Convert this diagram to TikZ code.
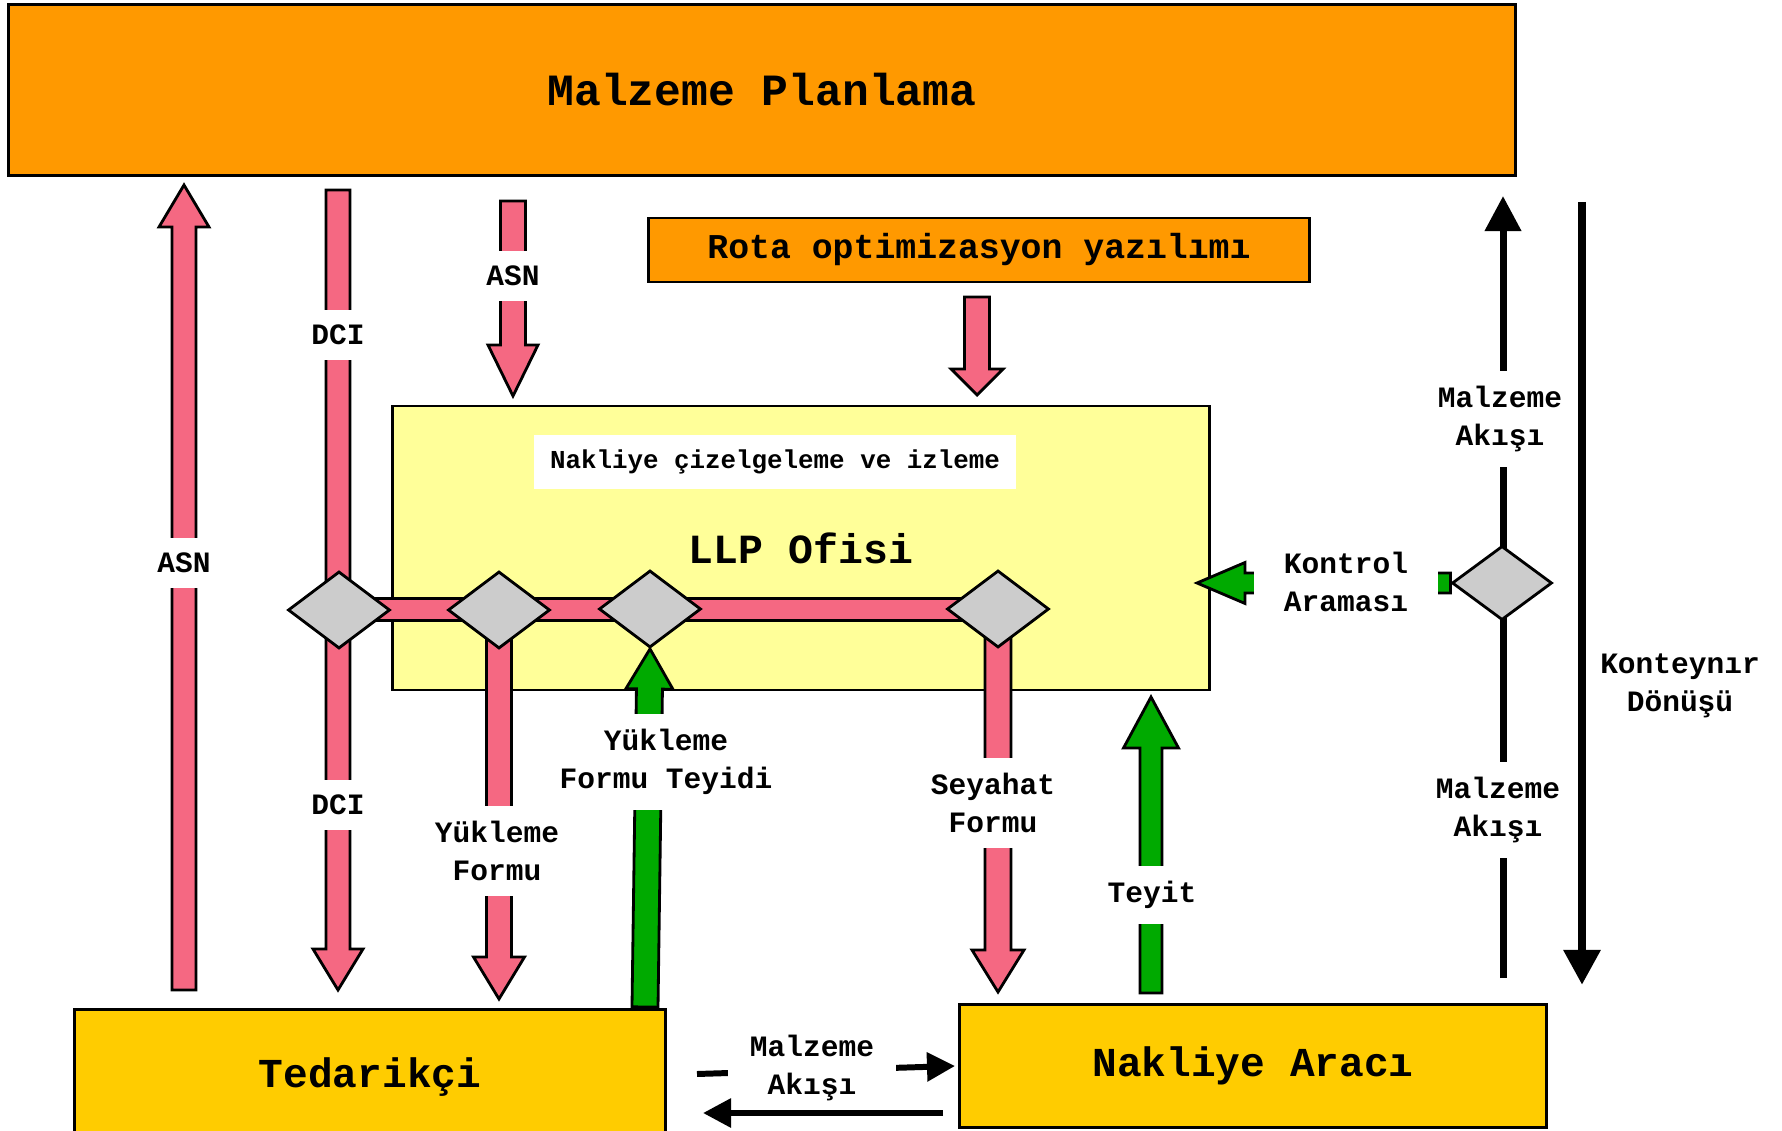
\documentclass[tikz,border=0pt]{standalone}
\usepackage{fontspec}
\setmainfont{Liberation Mono}
\usetikzlibrary{calc,shapes.geometric,arrows.meta,backgrounds}

\definecolor{planorange}{RGB}{255,153,0}
\definecolor{officeyellow}{RGB}{255,255,153}
\definecolor{partygold}{RGB}{255,204,0}
\definecolor{flowpink}{RGB}{245,104,130}
\definecolor{okgreen}{RGB}{0,170,0}
\definecolor{gategray}{RGB}{204,204,204}

\newcommand{\labelsize}{\bfseries\fontsize{8.4}{11}\selectfont}

% block arrow: colour, from, to, half shaft, half head, head length
\newcommand{\fatarrow}[6]{%
  \coordinate (fa base) at ($(#3)!#6!(#2)$);
  \draw[fatline,fill=#1] ($(#2)!#4!90:(#3)$) -- ($(fa base)!#4!90:(#3)$)
    -- ($(fa base)!#5!90:(#3)$) -- (#3) -- ($(fa base)!#5!-90:(#3)$)
    -- ($(fa base)!#4!-90:(#3)$) -- ($(#2)!#4!-90:(#3)$) -- cycle;}

\begin{document}
\begin{tikzpicture}
    [x=0.01cm, y=-0.01cm,
    box/.style={rectangle,draw=black,thick,inner sep=0pt},
    gate/.style={diamond,draw=black,thick,fill=gategray,inner sep=0pt,
                 minimum width=1.02cm,minimum height=0.77cm},
    fatline/.style={draw=black,thick},
    flow/.style={line width=2pt,-{Triangle[length=0.35cm,width=0.35cm]}},
    shortflow/.style={line width=1.7pt,-{Triangle[length=0.28cm,width=0.28cm]}},
    gap/.style={fill=white,inner xsep=0.06cm,inner ysep=0.15cm,
                align=center,font=\labelsize}]

    \useasboundingbox (0,0) rectangle (1782,1131);

    \node[box,fill=planorange,minimum width=15.06cm,minimum height=1.71cm,
          font=\bfseries\fontsize{12.7}{15}\selectfont] (planning) at (762,90) {Malzeme Planlama};
    \node[box,fill=planorange,minimum width=6.61cm,minimum height=0.64cm,
          font=\bfseries\fontsize{9.9}{12}\selectfont] (routing) at (979,250) {Rota optimizasyon yazılımı};
    \node[box,fill=partygold,minimum width=5.9cm,minimum height=1.35cm,
          font=\bfseries\fontsize{11.7}{14}\selectfont] (supplier) at (370,1077) {Tedarikçi};
    \node[box,fill=partygold,minimum width=5.87cm,minimum height=1.23cm,
          font=\bfseries\fontsize{11.7}{14}\selectfont] (carrier) at (1253,1066) {Nakliye Aracı};

    % gates
    \node[gate] (dci gate)     at (339,610) {};
    \node[gate] (form gate)    at (499,610) {};
    \node[gate] (confirm gate) at (650,609) {};
    \node[gate] (trip gate)    at (998,609) {};
    \node[gate,minimum width=1cm,minimum height=0.74cm] (control gate) at (1502,583) {};

    % free ends of the connectors
    \coordinate (asn up start)   at (184,990);
    \coordinate (asn up tip)     at (184,185);
    \coordinate (dci start)      at (338,190);
    \coordinate (dci tip)        at (338,990);
    \coordinate (asn down start) at (513,201);
    \coordinate (asn down tip)   at (513,396);
    \coordinate (routing start)  at (977,297);
    \coordinate (routing tip)    at (977,395);
    \coordinate (form tip)       at (499,999);
    \coordinate (trip tip)       at (998,992);
    \coordinate (confirm start)  at (645,1007);
    \coordinate (teyit start)    at (1151,993);
    \coordinate (teyit tip)      at (1151,697);
    \coordinate (control tip)    at (1197,583);
    \coordinate (flow up start)  at (1503,978);
    \coordinate (flow up tip)    at (1503,196);
    \coordinate (return start)   at (1582,202);
    \coordinate (return tip)     at (1582,985);
    \coordinate (transfer start) at (697,1074);
    \coordinate (transfer tip)   at (955,1066);
    \coordinate (back start)     at (943,1113);
    \coordinate (back tip)       at (703,1113);

    \begin{scope}[on background layer]
        \node[box,fill=officeyellow,minimum width=8.16cm,minimum height=2.84cm,
              font=\bfseries\fontsize{11.8}{14}\selectfont] (office) at (801,548) {LLP Ofisi};
        \node[fill=white,inner sep=0pt,minimum width=4.81cm,minimum height=0.53cm,
              font=\bfseries\fontsize{7.35}{9}\selectfont] (scheduling) at (775,462) {Nakliye çizelgeleme ve izleme};

        \fatarrow{flowpink}{asn up start}{asn up tip}{0.12cm}{0.25cm}{0.42cm}
        \fatarrow{flowpink}{dci start}{dci tip}{0.12cm}{0.25cm}{0.41cm}
        \fatarrow{flowpink}{asn down start}{asn down tip}{0.125cm}{0.25cm}{0.51cm}
        \fatarrow{flowpink}{routing start}{routing tip}{0.125cm}{0.26cm}{0.26cm}
        \fatarrow{flowpink}{form gate}{form tip}{0.125cm}{0.255cm}{0.42cm}
        \fatarrow{flowpink}{trip gate}{trip tip}{0.13cm}{0.26cm}{0.42cm}
        \fatarrow{okgreen}{confirm start}{confirm gate.south}{0.13cm}{0.235cm}{0.40cm}
        \fatarrow{okgreen}{teyit start}{teyit tip}{0.11cm}{0.275cm}{0.51cm}
        \fatarrow{okgreen}{control gate.west}{control tip}{0.10cm}{0.205cm}{0.48cm}

        % office bus
        \draw[fatline,fill=flowpink] ($(dci gate)+(0,-11.5)$) rectangle ($(trip gate)+(0,11.5)$);

        \draw[flow] (flow up start) -- (flow up tip);
        \draw[flow,line width=2.5pt] (return start) -- (return tip);
        \draw[shortflow] (transfer start) -- (transfer tip);
    \end{scope}

    \node[gap] (asn label)       at (184,563) {ASN};
    \node[gap] (dci label)       at (338,335) {DCI};
    \node[gap] (asn down label)  at (513,276) {ASN};
    \node[gap] (dci low label)   at (338,805) {DCI};
    \node[gap] (form label)      at (497,851) {Yükleme\\Formu};
    \node[gap] (confirm label)   at (666,762) {Yükleme\\Formu Teyidi};
    \node[gap] (trip label)      at (993,803) {Seyahat\\Formu};
    \node[gap] (teyit label)     at (1152,895) {Teyit};
    \node[gap] (flow up label)   at (1500,419) {Malzeme\\Akışı};
    \node[gap] (flow low label)  at (1498,810) {Malzeme\\Akışı};
    \node[gap,inner xsep=0.3cm] (control label) at (1346,582) {Kontrol\\Araması};
    \node[gap,inner xsep=0.22cm,inner ysep=0.02cm] (transfer label) at (812,1068) {Malzeme\\Akışı};
    \node[gap,fill=none] (return label) at (1680,686) {Konteynır\\Dönüşü};

    \draw[shortflow] (back start) -- (back tip);
\end{tikzpicture}
\end{document}
